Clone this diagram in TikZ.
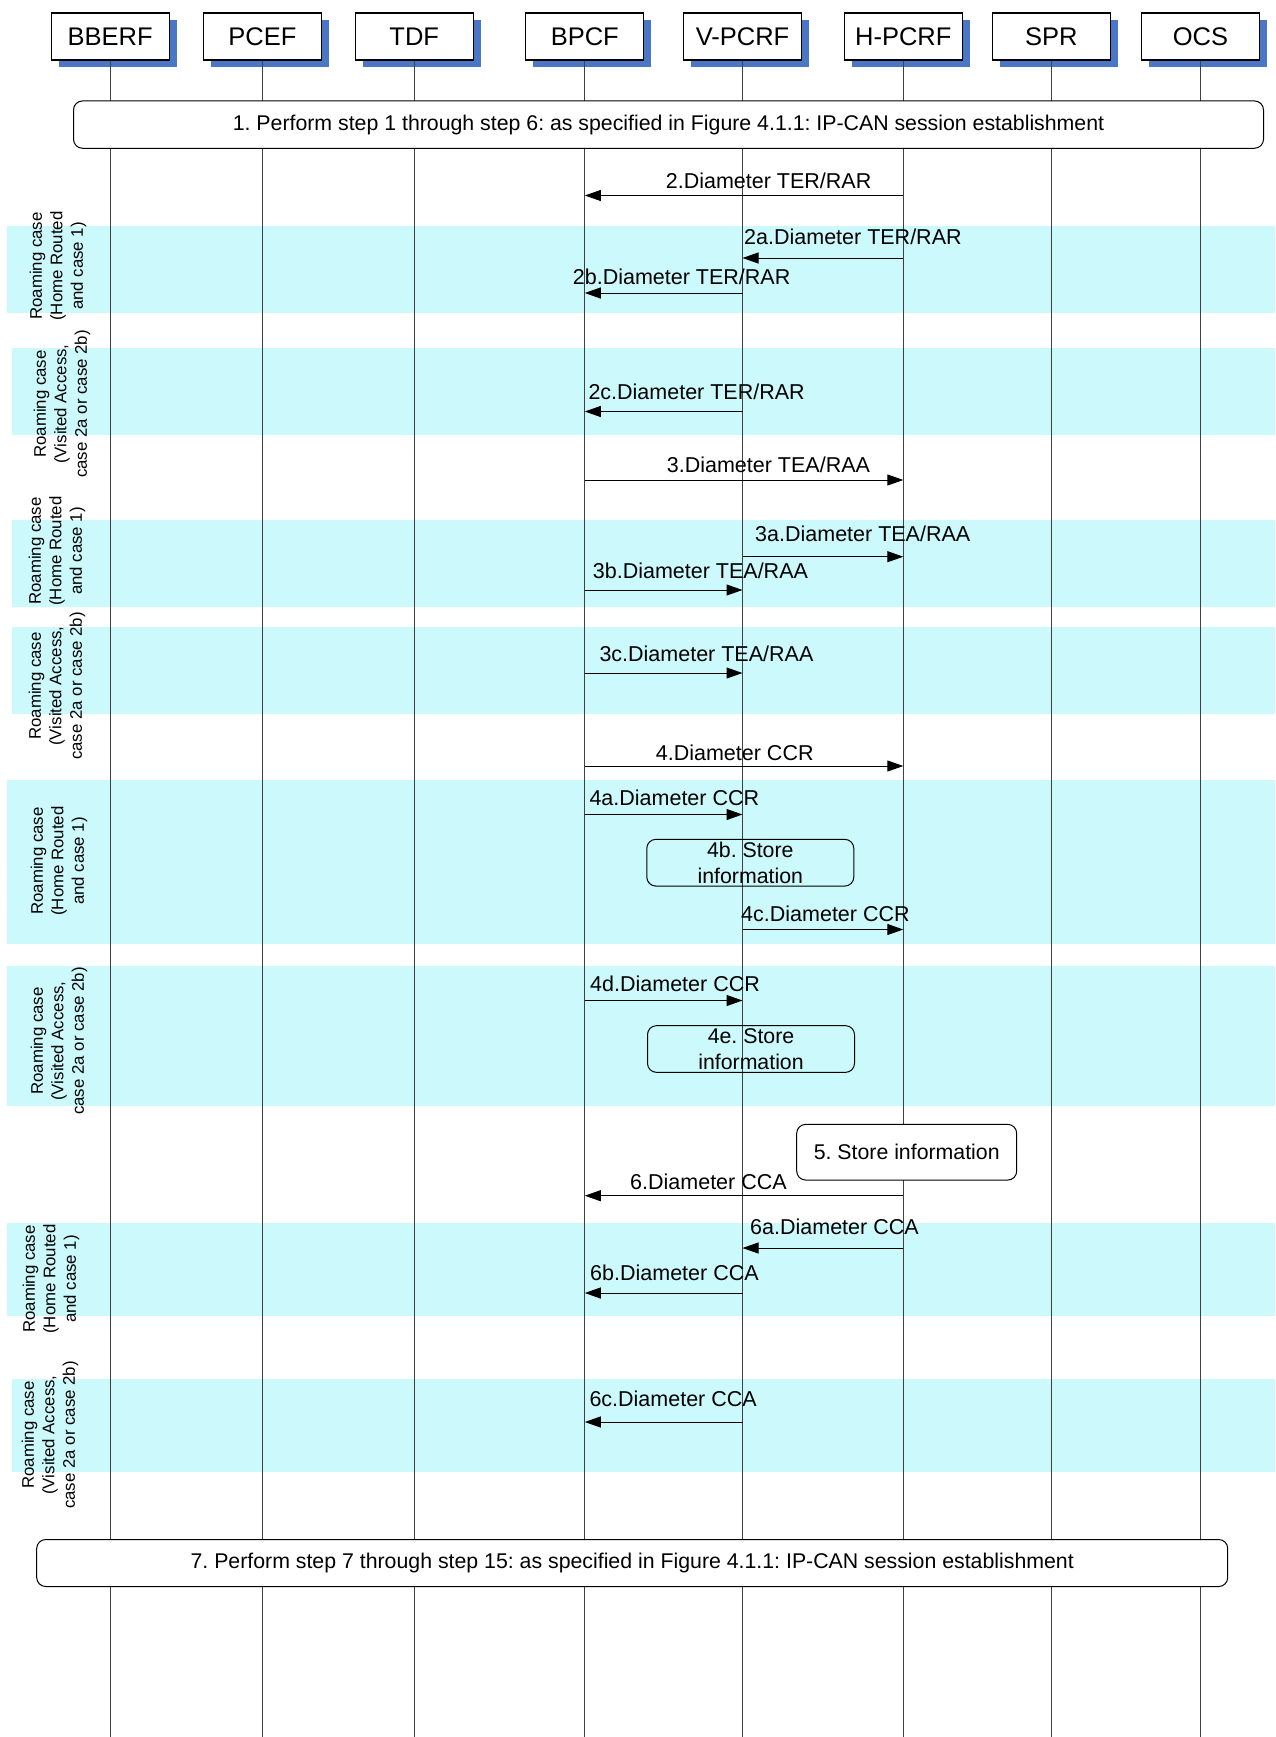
\documentclass[tikz,border=0pt]{standalone}
\usepackage{fontspec}
\setmainfont{Liberation Sans}
\usetikzlibrary{arrows.meta,shadows}
\definecolor{bandcyan}{HTML}{CCF9FC}
\definecolor{shadowblue}{HTML}{4A76C6}
\frenchspacing

\begin{document}
\begin{tikzpicture}[x=1pt,y=-1pt,
		entity/.style={draw, line width=1.2pt, fill=white, minimum width=118pt,
			minimum height=47pt, inner sep=0pt, font=\fontsize{25.5}{28}\selectfont,
			drop shadow={shadow xshift=7.5pt, shadow yshift=-7.5pt, fill=shadowblue, opacity=1}},
		life/.style={draw=black!75, line width=1pt},
		band/.style={fill=bandcyan},
		roam/.style={rotate=90, align=center, inner sep=0pt, font=\fontsize{16.8}{20.5}\selectfont},
		phase/.style={draw, line width=1pt, rounded corners=9pt, fill=white, inner sep=0pt,
			font=\fontsize{21.3}{25}\selectfont},
		store/.style={draw, line width=1pt, rounded corners=9pt, align=center, inner sep=0pt,
			font=\fontsize{21.3}{25.5}\selectfont},
		msg/.style={line width=1pt, -{Triangle[length=16pt,width=11pt]}},
		lbl/.style={anchor=base west, inner sep=0pt, font=\fontsize{21.5}{25}\selectfont}]
		\useasboundingbox (0,0) rectangle (1275,1737);
		% roaming bands
		\foreach \l/\t/\b in {6.9/226/313, 11.8/348/435, 11.8/520/607, 11.8/627/714,
			6.9/780/944, 6.9/966/1106, 6.9/1223/1316, 11.8/1379/1472}
			\fill[band] (\l,\t) rectangle (1275,\b);
		% entities
		\foreach \n/\t/\x in {bberf/BBERF/110.2, pcef/PCEF/262.4, tdf/TDF/414.2, bpcf/BPCF/584.8,
			vpcrf/V-PCRF/742.5, hpcrf/H-PCRF/903.3, spr/SPR/1051.4, ocs/OCS/1200.4}
			\node[entity] (\n) at (\x,36.5) {\t};
		% lifelines
		\foreach \n in {bberf,pcef,tdf,bpcf,vpcrf,hpcrf,spr,ocs}
			\draw[life] (\n.south) -- (\n.south |- 0,1737);
		% roaming case labels
		\node[roam] (rc1) at (58,266) {Roaming case\\(Home Routed\\and case 1)};
		\node[roam] (rc2) at (62,404) {Roaming case\\(Visited Access,\\case 2a or case 2b)};
		\node[roam] (rc3) at (57,551) {Roaming case\\(Home Routed\\and case 1)};
		\node[roam] (rc4) at (57,686) {Roaming case\\(Visited Access,\\case 2a or case 2b)};
		\node[roam] (rc5) at (59,861) {Roaming case\\(Home Routed\\and case 1)};
		\node[roam] (rc6) at (59,1041) {Roaming case\\(Visited Access,\\case 2a or case 2b)};
		\node[roam] (rc7) at (51,1279) {Roaming case\\(Home Routed\\and case 1)};
		\node[roam] (rc8) at (50,1435) {Roaming case\\(Visited Access,\\case 2a or case 2b)};
		% step 1 and step 7 boxes
		\node[phase, minimum width=1190pt, minimum height=47.3pt] (perf1) at (668.5,124.6)
		{1. Perform step 1 through step 6: as specified in Figure 4.1.1: IP-CAN session establishment};
		\node[phase, minimum width=1191pt, minimum height=47pt] (perf7) at (632.2,1563)
		{7. Perform step 7 through step 15: as specified in Figure 4.1.1: IP-CAN session establishment};
		% store boxes
		\node[store, minimum width=207pt, minimum height=46.7pt] (st4b) at (750.3,862.7)
		{4b. Store\\information};
		\node[store, minimum width=207pt, minimum height=46.7pt] (st4e) at (751,1049)
		{4e. Store\\information};
		\node[store, fill=white, minimum width=220pt, minimum height=55.7pt] (st5) at (906.7,1152.2)
		{5. Store information};
		% 2: TER/RAR
		\draw[msg] (hpcrf |- 0,195.5) -- (bpcf |- 0,195.5);
		\node[lbl] (m2) at (665.7,188.3) {2.Diameter TER/RAR};
		\draw[msg] (hpcrf |- 0,258) -- (vpcrf |- 0,258);
		\node[lbl] (m2a) at (744,244.3) {2a.Diameter TER/RAR};
		\draw[msg] (vpcrf |- 0,293) -- (bpcf |- 0,293);
		\node[lbl] (m2b) at (572.7,284) {2b.Diameter TER/RAR};
		\draw[msg] (vpcrf |- 0,411.5) -- (bpcf |- 0,411.5);
		\node[lbl] (m2c) at (588.3,399) {2c.Diameter TER/RAR};
		% 3: TEA/RAA
		\draw[msg] (bpcf |- 0,480) -- (hpcrf |- 0,480);
		\node[lbl] (m3) at (666.7,472.3) {3.Diameter TEA/RAA};
		\draw[msg] (vpcrf |- 0,556.7) -- (hpcrf |- 0,556.7);
		\node[lbl] (m3a) at (755,541.7) {3a.Diameter TEA/RAA};
		\draw[msg] (bpcf |- 0,590) -- (vpcrf |- 0,590);
		\node[lbl] (m3b) at (592.7,578.3) {3b.Diameter TEA/RAA};
		\draw[msg] (bpcf |- 0,673) -- (vpcrf |- 0,673);
		\node[lbl] (m3c) at (599.3,661.7) {3c.Diameter TEA/RAA};
		% 4: CCR
		\draw[msg] (bpcf |- 0,766) -- (hpcrf |- 0,766);
		\node[lbl] (m4) at (655.7,760.7) {4.Diameter CCR};
		\draw[msg] (bpcf |- 0,814.5) -- (vpcrf |- 0,814.5);
		\node[lbl] (m4a) at (589.3,805.7) {4a.Diameter CCR};
		\draw[msg] (vpcrf |- 0,929.5) -- (hpcrf |- 0,929.5);
		\node[lbl] (m4c) at (741,921.7) {4c.Diameter CCR};
		\draw[msg] (bpcf |- 0,1000.5) -- (vpcrf |- 0,1000.5);
		\node[lbl] (m4d) at (590,991.7) {4d.Diameter CCR};
		% 6: CCA
		\draw[msg] (hpcrf |- 0,1195.7) -- (bpcf |- 0,1195.7);
		\node[lbl] (m6) at (630,1189) {6.Diameter CCA};
		\draw[msg] (hpcrf |- 0,1248) -- (vpcrf |- 0,1248);
		\node[lbl] (m6a) at (750,1234) {6a.Diameter CCA};
		\draw[msg] (vpcrf |- 0,1293) -- (bpcf |- 0,1293);
		\node[lbl] (m6b) at (590,1280.7) {6b.Diameter CCA};
		\draw[msg] (vpcrf |- 0,1422) -- (bpcf |- 0,1422);
		\node[lbl] (m6c) at (589.3,1406.7) {6c.Diameter CCA};
	\end{tikzpicture}
\end{document}
